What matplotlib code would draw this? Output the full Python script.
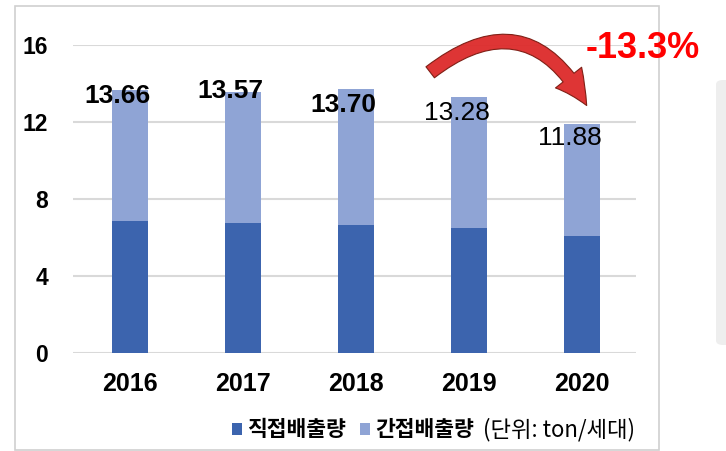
import numpy as np
import matplotlib.pyplot as plt
from matplotlib.patches import Rectangle, FancyArrowPatch, FancyBboxPatch

years = ['2016', '2017', '2018', '2019', '2020']
direct = [6.86, 6.73, 6.65, 6.50, 6.08]
total = [13.66, 13.57, 13.70, 13.28, 11.88]
indirect = [t - d for t, d in zip(total, direct)]
total_labels = ['13.66', '13.57', '13.70', '13.28', '11.88']
change_label = '-13.3%'

plt.rcParams['font.family'] = ['Liberation Sans', 'Noto Sans CJK KR', 'DejaVu Sans']

dark = '#3C64AE'
light = '#8FA4D5'

fig = plt.figure(figsize=(7.26, 4.51), dpi=100)
W, H = 726, 451

# outer frame and grey block at the right
fig.patches.append(Rectangle((15 / W, 1 - 450 / H), 644 / W, 444 / H, transform=fig.transFigure,
                             fill=False, edgecolor='#d0d0d0', linewidth=1.2))
fig.patches.append(FancyBboxPatch((716 / W, 1 - 345 / H), 20 / W, 265 / H, transform=fig.transFigure,
                                  boxstyle='round,pad=0,rounding_size=0.01',
                                  facecolor='#eeeeee', edgecolor='none'))

ax = fig.add_axes([73 / W, 1 - 353 / H, 563 / W, 308 / H])
x = np.arange(len(years))
ax.bar(x, direct, width=0.32, color=dark, label='직접배출량', zorder=3)
ax.bar(x, indirect, width=0.32, bottom=direct, color=light, label='간접배출량', zorder=3)

ax.set_ylim(0, 16)
ax.set_xlim(-0.504, 4.478)
ax.set_yticks([0, 4, 8, 12, 16])
ax.yaxis.grid(True, color='#d9d9d9', linewidth=1.5, zorder=0)
for s in ax.spines.values():
    s.set_visible(False)
ax.tick_params(axis='both', length=0)
ax.tick_params(axis='y', pad=18, labelsize=16.5)
ax.tick_params(axis='x', pad=14, labelsize=18)
ax.set_xticks(x)
ax.set_xticklabels(years, fontweight='bold')
for lab in ax.get_yticklabels():
    lab.set_fontweight('bold')

# value labels
label_y = [13.35, 13.6, 12.9, 12.45, 11.15]
for i, (t, ly) in enumerate(zip(total_labels, label_y)):
    ax.text(x[i] - 0.11, ly, t, ha='center', va='center', fontsize=19,
            fontweight='bold' if i < 3 else 'normal', zorder=5)

# curved arrow and change label
arrow = FancyArrowPatch((428 / W, 1 - 74 / H), (588 / W, 1 - 108 / H), transform=fig.transFigure,
                        connectionstyle='arc3,rad=-0.6',
                        arrowstyle='simple,head_width=24,head_length=24,tail_width=10',
                        facecolor='#dd2a2a', edgecolor='#7a1a10', linewidth=0.8, alpha=0.95)
fig.patches.append(arrow)
fig.text(643 / W, 1 - 48 / H, change_label, color='#ff0000', fontsize=26, fontweight='bold',
         ha='center', va='center')

leg = ax.legend(loc='center left', bbox_to_anchor=(232 / W, 1 - 430 / H),
                bbox_transform=fig.transFigure, ncol=2, frameon=False,
                borderpad=0, borderaxespad=0,
                handlelength=0.45, handleheight=0.45, handletextpad=0.25, columnspacing=0.65,
                prop={'family': ['Noto Sans CJK KR'], 'weight': 'bold', 'size': 15.5})
fig.text(483 / W, 1 - 430 / H, '(단위: ton/세대)', fontsize=16, va='center', ha='left',
         family=['Noto Sans CJK KR', 'DejaVu Sans'])

fig.savefig('out.png', dpi=100)
